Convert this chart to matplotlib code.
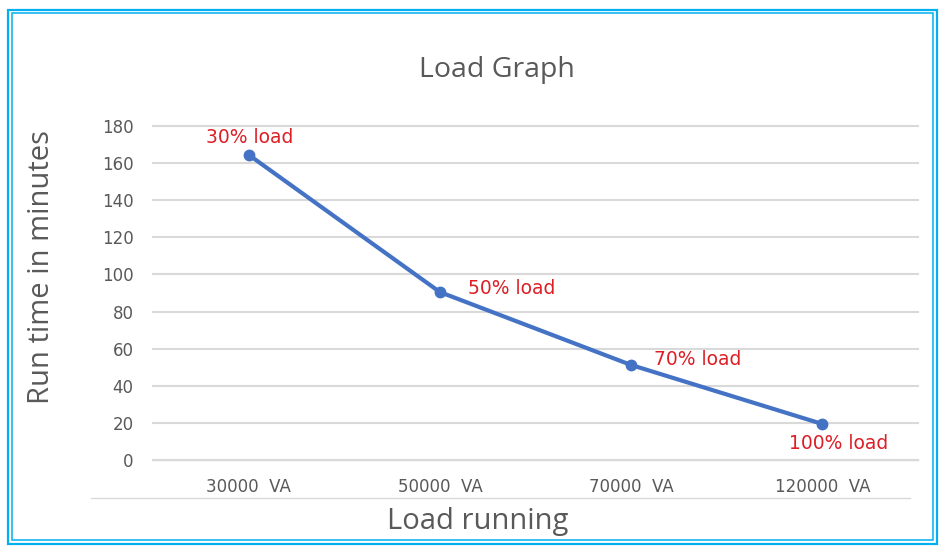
import matplotlib
matplotlib.use("Agg")
import matplotlib.pyplot as plt
from matplotlib.lines import Line2D
from matplotlib.patches import Rectangle

# data
categories = ["30000  VA", "50000  VA", "70000  VA", "120000  VA"]
run_minutes = [164.5, 90.5, 51.2, 19.4]
point_labels = ["30% load", "50% load", "70% load", "100% load"]
y_ticks = [0, 20, 40, 60, 80, 100, 120, 140, 160, 180]

W, H = 948, 553
LINE = "#4472c4"
GRID = "#d9d9d9"
TXT = "#595959"
RED = "#dc1f26"
FRAME = "#00b0f0"

fig = plt.figure(figsize=(W / 100, H / 100), dpi=100)
ax = fig.add_axes([153 / W, 1 - 460 / H, (918 - 153) / W, (460 - 126) / H])

x = list(range(len(categories)))
ax.plot(x, run_minutes, "-o", color=LINE, lw=3, ms=7.5, zorder=3,
        solid_capstyle="round")

ax.set_xlim(-0.5, len(categories) - 0.5)
ax.set_ylim(0, 180)
ax.set_yticks(y_ticks)
ax.set_xticks(x)
ax.set_xticklabels(categories)
ax.tick_params(axis="both", length=0, labelsize=12, labelcolor=TXT,
               labelfontfamily="DejaVu Sans")
ax.tick_params(axis="x", pad=13)
ax.tick_params(axis="y", pad=14)
ax.grid(axis="y", color=GRID, lw=1.5)
for gl in ax.get_ygridlines():
    gl.set_clip_on(False)
ax.set_axisbelow(True)
for s in ["top", "right", "left"]:
    ax.spines[s].set_visible(False)
ax.spines["bottom"].set_color(GRID)
ax.spines["bottom"].set_linewidth(1.0)
ax.spines["bottom"].set_zorder(2)

# data labels (offsets in pixels)
offsets = [(1, 17, "center"), (28, 4, "left"), (23, 5, "left"), (16, -19, "center")]
for xi, yi, lab, (dx, dy, ha) in zip(x, run_minutes, point_labels, offsets):
    ax.annotate(lab, (xi, yi), xytext=(dx, dy), textcoords="offset pixels",
                ha=ha, va="center", color=RED, fontsize=13.5,
                family="DejaVu Sans")

fig.text(497 / W, 1 - 70 / H, "Load Graph", ha="center", va="center",
         fontsize=20.5, color=TXT, family="Open Sans")
fig.text(42 / W, 1 - 267 / H, "Run time in minutes", ha="center", va="center",
         rotation=90, fontsize=21, color=TXT, family="Open Sans")
fig.text(478 / W, 1 - 521 / H, "Load running", ha="center", va="center",
         fontsize=21, color=TXT, family="Open Sans")

# thin rule under the category labels
fig.add_artist(Line2D([91 / W, 910 / W], [1 - 498 / H, 1 - 498 / H],
                      color=GRID, lw=1.0))

# double blue frame
fig.add_artist(Rectangle((8 / W, 1 - 544 / H), (937 - 8) / W, (544 - 10) / H,
                         fill=False, ec=FRAME, lw=1.6))
fig.add_artist(Rectangle((12 / W, 1 - 540 / H), (933 - 12) / W, (540 - 13) / H,
                         fill=False, ec=FRAME, lw=1.1))

fig.savefig("out.png", dpi=100)
